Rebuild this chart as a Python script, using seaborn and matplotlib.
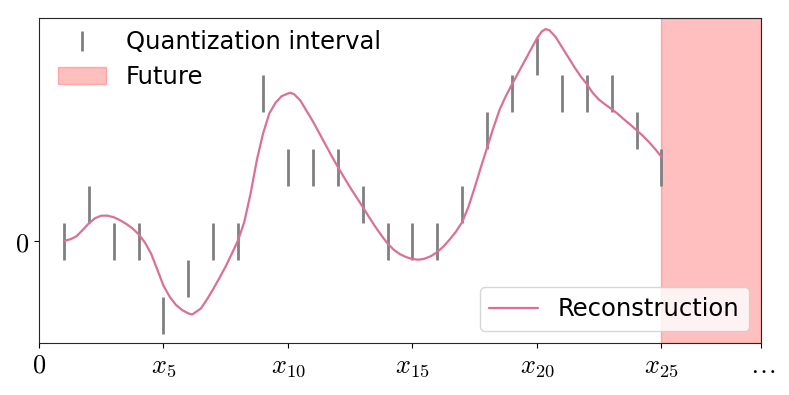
import matplotlib
matplotlib.use("Agg")
import matplotlib.pyplot as plt
from matplotlib.lines import Line2D
from matplotlib.patches import Patch
import seaborn as sns
import pandas as pd

sns.set_style("ticks", {"text.color": "black", "xtick.color": "black", "ytick.color": "black"})
plt.rcParams["mathtext.fontset"] = "cm"

# quantized levels (interval centre) at each sample x_1 .. x_25
sample_x = list(range(1, 26))
levels = [0, 1, 0, 0, -2, -1, 0, 0, 4, 2, 2, 2, 1, 0, 0, 0, 1, 3, 4, 5, 4, 4, 4, 3, 2]
half_width = 0.5

# reconstruction curve
rec_x = [1.0, 1.25, 1.5, 1.75, 2.0, 2.25, 2.5, 2.75, 3.0, 3.25, 3.5, 3.75,
         4.0, 4.25, 4.5, 4.75, 5.0, 5.25, 5.5, 5.75, 6.0, 6.15, 6.5, 6.75,
         7.0, 7.25, 7.5, 7.75, 8.0, 8.25, 8.5, 8.75, 9.0, 9.25, 9.5, 9.75, 10.0, 10.1,
         10.25, 10.5, 10.75, 11.0, 11.25, 11.5, 11.75, 12.0, 12.25, 12.5,
         12.75, 13.0, 13.25, 13.5, 13.75, 14.0, 14.25, 14.5, 14.75, 15.0,
         15.25, 15.5, 15.75, 16.0, 16.25, 16.5, 16.75, 17.0, 17.25, 17.5,
         17.75, 18.0, 18.25, 18.5, 18.75, 19.0, 19.25, 19.5, 19.75, 20.0,
         20.2, 20.35, 20.5, 20.75, 21.0, 21.25, 21.5, 21.75, 22.0, 22.25,
         22.5, 22.75, 23.0, 23.25, 23.5, 23.75, 24.0, 24.25, 24.5, 24.75, 25.0]
rec_y = [0.01, 0.05, 0.13, 0.30, 0.48, 0.62, 0.69, 0.69, 0.65, 0.57, 0.47, 0.35,
         0.19, -0.03, -0.33, -0.76, -1.20, -1.50, -1.72, -1.86, -1.95, -1.98, -1.82, -1.57,
         -1.29, -0.99, -0.68, -0.33, 0.03, 0.53, 1.29, 2.19, 2.91, 3.45, 3.74, 3.92, 3.99, 4.01,
         3.97, 3.80, 3.52, 3.24, 2.93, 2.62, 2.31, 2.01, 1.73, 1.45,
         1.19, 0.93, 0.66, 0.40, 0.16, -0.06, -0.23, -0.35, -0.43, -0.48,
         -0.50, -0.47, -0.40, -0.29, -0.14, 0.05, 0.26, 0.52, 0.93, 1.45,
         2.00, 2.53, 3.06, 3.55, 3.92, 4.24, 4.55, 4.86, 5.17, 5.48,
         5.67, 5.73, 5.70, 5.52, 5.25, 4.98, 4.71, 4.46, 4.25, 4.00,
         3.82, 3.69, 3.57, 3.44, 3.29, 3.15, 3.00, 2.85, 2.68, 2.49, 2.28]

future_start = 25
x_end = 29
xtick_pos = [0, 5, 10, 15, 20, 25, 29]
xtick_labels = ["$0$", "$x_{5}$", "$x_{10}$", "$x_{15}$", "$x_{20}$", "$x_{25}$", r"$\dots$"]

rec = pd.DataFrame({"x": rec_x, "y": rec_y})

fig, ax = plt.subplots(figsize=(7.89, 3.95), dpi=100)
fig.subplots_adjust(left=0.0494, right=0.9645, top=0.9544, bottom=0.1316)

ax.vlines(sample_x, [l - half_width for l in levels], [l + half_width for l in levels],
          color="gray", lw=2)
sns.lineplot(data=rec, x="x", y="y", ax=ax, color="palevioletred", lw=1.6)
ax.axvspan(future_start, x_end, color="red", alpha=0.25, lw=1)

ax.set_xlim(0, x_end)
ax.set_ylim(-2.75, 6.03)
ax.set_xticks(xtick_pos)
ax.set_xticklabels(xtick_labels, fontsize=19)
ax.set_yticks([0])
ax.set_yticklabels(["$0$"], fontsize=19)
ax.set_xlabel("")
ax.set_ylabel("")

h1 = Line2D([], [], color="gray", marker="|", ls="none", markersize=15, markeredgewidth=2)
h2 = Patch(facecolor="red", edgecolor="red", alpha=0.25)
leg1 = ax.legend([h1, h2], ["Quantization interval", "Future"], loc="upper left",
                 bbox_to_anchor=(0.009, 1.0), frameon=False, fontsize=17.5,
                 labelspacing=0.45, borderaxespad=0.1)
ax.add_artist(leg1)
h3 = Line2D([], [], color="palevioletred", lw=1.6)
ax.legend([h3], ["Reconstruction"], loc="lower right", fontsize=17.5)

fig.savefig("out.png", dpi=100)
